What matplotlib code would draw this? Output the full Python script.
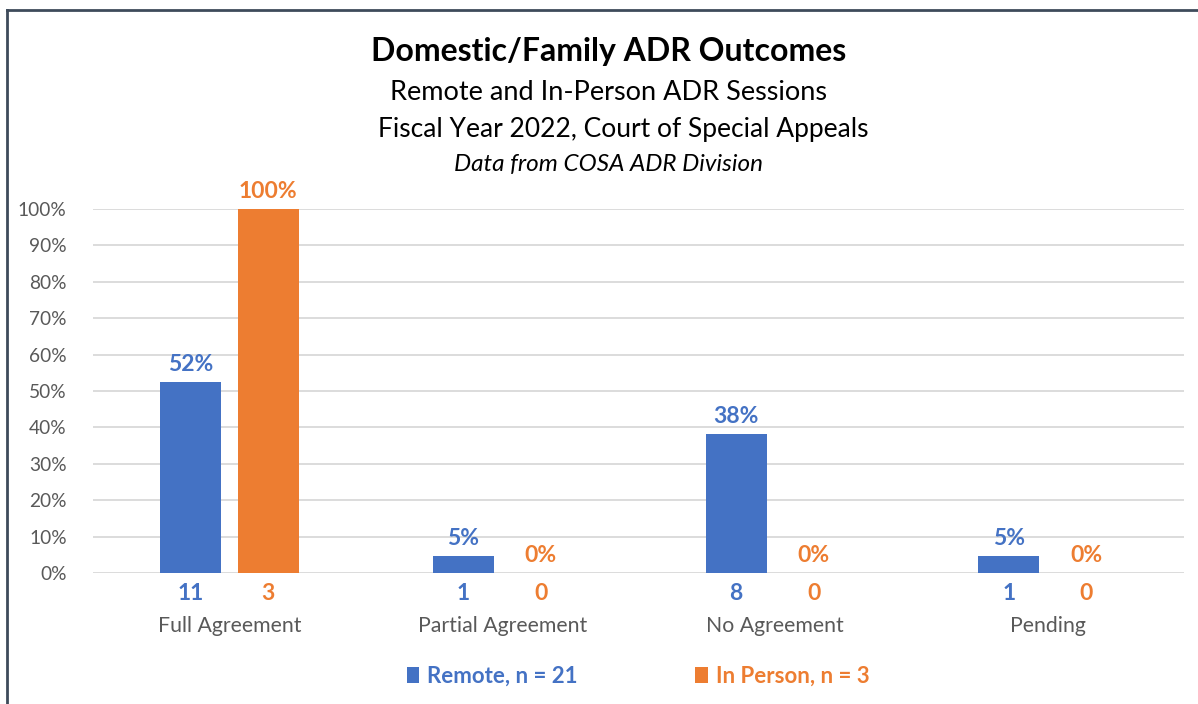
import matplotlib
matplotlib.use("Agg")
import matplotlib.pyplot as plt
from matplotlib.lines import Line2D
import numpy as np

categories = ["Full Agreement", "Partial Agreement", "No Agreement", "Pending"]
remote_counts = [11, 1, 8, 1]
inperson_counts = [3, 0, 0, 0]
remote_n = 21
inperson_n = 3
ytick_vals = [0, 10, 20, 30, 40, 50, 60, 70, 80, 90, 100]

BLUE = "#4472C4"
ORANGE = "#ED7D31"
GRAY = "#595959"
FONT = ["Lato", "DejaVu Sans"]

plt.rcParams["font.family"] = FONT

remote_pct = [100 * c / remote_n for c in remote_counts]
inperson_pct = [100 * c / inperson_n for c in inperson_counts]

fig = plt.figure(figsize=(11.98, 7.04), dpi=100)
ax = fig.add_axes([93 / 1198, 131 / 704, (1184 - 93) / 1198, (573 - 209) / 704])

x = np.arange(len(categories))
w = 0.223
off = 0.142
b1 = ax.bar(x - off, remote_pct, w, color=BLUE, zorder=3, label=f"Remote, n = {remote_n}")
b2 = ax.bar(x + off, inperson_pct, w, color=ORANGE, zorder=3, label=f"In Person, n = {inperson_n}")

ax.set_xlim(-0.5, len(categories) - 0.5)
ax.set_ylim(0, 100)
ax.set_yticks(ytick_vals)
ax.set_yticklabels([f"{v}%" for v in ytick_vals], color=GRAY, fontsize=13.8)
ax.yaxis.grid(True, color="#D9D9D9", linewidth=1.3, zorder=0)
ax.set_axisbelow(True)
ax.tick_params(axis="y", length=0, pad=19)
ax.tick_params(axis="x", length=0)
ax.set_xticks([])
for s in ax.spines.values():
    s.set_visible(False)

# value labels above bars and counts below the axis
for bars, pcts, counts, col in [(b1, remote_pct, remote_counts, BLUE),
                                (b2, inperson_pct, inperson_counts, ORANGE)]:
    for rect, p, c in zip(bars, pcts, counts):
        cx = rect.get_x() + rect.get_width() / 2
        ax.annotate(f"{p:.0f}%", (cx, p), xytext=(0, 5), textcoords="offset points",
                    ha="center", va="bottom", color=col, fontsize=16.5,
                    fontweight="bold", annotation_clip=False)
        ax.annotate(f"{c}", (cx, 0), xytext=(0, -14.5), textcoords="offset points",
                    ha="center", va="center", color=col, fontsize=16.5,
                    fontweight="bold", annotation_clip=False)

for xi, cat in zip(x, categories):
    ax.annotate(cat, (xi, 0), xytext=(0, -38.5), textcoords="offset points",
                ha="center", va="center", color=GRAY, fontsize=15.3,
                annotation_clip=False)

# titles
cx_title = 609 / 1198
fig.text(cx_title, 1 - 52 / 704, "Domestic/Family ADR Outcomes", ha="center", va="center",
         fontsize=23, fontweight="bold", color="black")
fig.text(cx_title, 1 - 93 / 704, "Remote and In-Person ADR Sessions", ha="center",
         va="center", fontsize=19.5, color="black")
fig.text(623 / 1198, 1 - 130 / 704, "Fiscal Year 2022, Court of Special Appeals",
         ha="center", va="center", fontsize=19, color="black")
fig.text(608 / 1198, 1 - 165 / 704, "Data from COSA ADR Division", ha="center",
         va="center", fontsize=17.5, style="italic", color="black")

leg = fig.legend(handles=[b1, b2], loc="center", bbox_to_anchor=(638 / 1198, 1 - 676 / 704),
                 ncol=2, frameon=False, handlelength=0.55, handleheight=0.75,
                 handletextpad=0.36, columnspacing=5.3,
                 prop={"family": FONT, "weight": "bold", "size": 16})
for t, col in zip(leg.get_texts(), [BLUE, ORANGE]):
    t.set_color(col)

# chart frame edges
fig.add_artist(Line2D([7 / 1198, 7 / 1198], [0, 1 - 10 / 704], transform=fig.transFigure,
                      color="#3E4B5B", linewidth=2))
fig.add_artist(Line2D([7 / 1198, 1], [1 - 10 / 704, 1 - 10 / 704], transform=fig.transFigure,
                      color="#3E4B5B", linewidth=2))

fig.savefig("out.png", dpi=100)
